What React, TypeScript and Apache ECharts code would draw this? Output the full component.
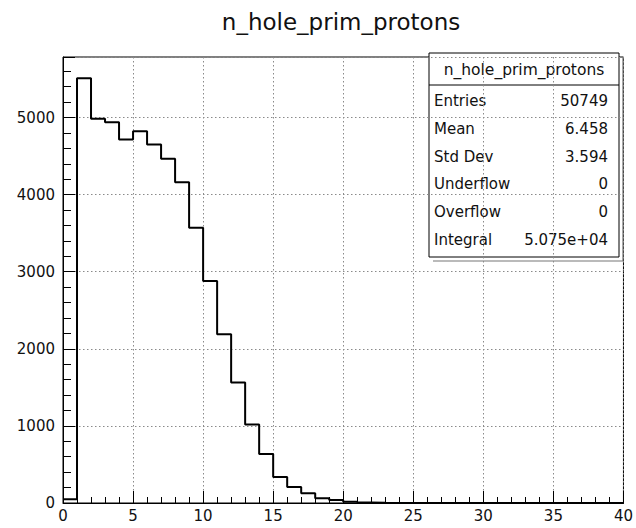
import React, { useEffect, useRef } from "react";
import * as echarts from "echarts";

const CHART_TITLE = "n_hole_prim_protons";
const BIN_EDGES = [
  0, 1, 2, 3, 4, 5, 6, 7, 8, 9, 10, 11, 12, 13, 14, 15, 16, 17, 18, 19, 20,
  21, 22, 23, 24, 25, 26, 27, 28, 29, 30, 31, 32, 33, 34, 35, 36, 37, 38, 39, 40,
];
const BIN_COUNTS = [
  50, 5510, 4985, 4940, 4715, 4823, 4650, 4465, 4162, 3571, 2880, 2189, 1563,
  1019, 635, 337, 207, 125, 60, 40, 15, 5, 2, 0, 0, 0, 0, 0, 0, 0, 0, 0, 0, 0,
  0, 0, 0, 0, 0, 0,
];
const X_MIN = 0;
const X_MAX = 40;
const X_STEP = 5;
const Y_MIN = 0;
const Y_MAX = 5785;
const Y_STEP = 1000;
const STAT_TITLE = "n_hole_prim_protons";
const STAT_NAMES = ["Entries", "Mean", "Std Dev", "Underflow", "Overflow", "Integral"];
const STAT_VALUES = ["50749", "6.458", "3.594", "0", "0", "5.075e+04"];

const FONT = '"DejaVu Sans", "Liberation Sans", sans-serif';

export default function App() {
  const ref = useRef<HTMLDivElement>(null);

  useEffect(() => {
    if (!ref.current) return;
    const chart = echarts.init(ref.current, null, { renderer: "svg" });

    const points: number[][] = BIN_COUNTS.map((c, i) => [BIN_EDGES[i], c]);
    points.push([BIN_EDGES[BIN_EDGES.length - 1], BIN_COUNTS[BIN_COUNTS.length - 1]]);

    const boxL = 429;
    const boxT = 53;
    const boxW = 190;
    const boxH = 204;
    const rowY0 = 101;
    const rowStep = 27.8;

    const statTexts: any[] = [];
    STAT_NAMES.forEach((name, i) => {
      statTexts.push({
        type: "text",
        x: 434,
        y: rowY0 + i * rowStep,
        style: {
          text: name,
          font: `15px ${FONT}`,
          fill: "#111",
          align: "left",
          verticalAlign: "middle",
        },
      });
      statTexts.push({
        type: "text",
        x: 608,
        y: rowY0 + i * rowStep,
        style: {
          text: STAT_VALUES[i],
          font: `15px ${FONT}`,
          fill: "#111",
          align: "right",
          verticalAlign: "middle",
        },
      });
    });

    const dotted = { color: "#8a8a8a", width: 1, type: [1.5, 2.5] as any };

    chart.setOption({
      animation: false,
      backgroundColor: "#fff",
      grid: {
        left: 63,
        right: 11,
        top: 57,
        bottom: 25,
        show: true,
        borderColor: "#000",
        borderWidth: 1,
        backgroundColor: "transparent",
      },
      xAxis: {
        type: "value",
        min: X_MIN,
        max: X_MAX,
        interval: X_STEP,
        axisLine: { show: true, onZero: false, lineStyle: { color: "#000", width: 1 } },
        axisTick: { show: true, inside: true, length: 12, lineStyle: { color: "#000", width: 1 } },
        minorTick: { show: true, splitNumber: 5, length: 6, lineStyle: { color: "#000", width: 1 } },
        splitLine: { show: true, lineStyle: dotted },
        axisLabel: { fontFamily: FONT, fontSize: 15, color: "#111", margin: 5 },
      },
      yAxis: {
        type: "value",
        min: Y_MIN,
        max: Y_MAX,
        interval: Y_STEP,
        axisLine: { show: true, onZero: false, lineStyle: { color: "#000", width: 1 } },
        axisTick: { show: true, inside: true, length: 12, lineStyle: { color: "#000", width: 1 } },
        minorTick: { show: true, splitNumber: 5, length: 8, lineStyle: { color: "#000", width: 1 } },
        splitLine: { show: true, lineStyle: dotted },
        axisLabel: {
          fontFamily: FONT,
          fontSize: 15,
          color: "#111",
          margin: 8,
          formatter: (v: number) => (v % Y_STEP === 0 ? String(v) : ""),
        },
      },
      series: [
        {
          type: "line",
          step: "end",
          data: points,
          showSymbol: false,
          symbol: "none",
          clip: true,
          lineStyle: { color: "#000", width: 2 },
          z: 5,
        },
      ],
      graphic: [
        {
          type: "text",
          x: 341,
          y: 22,
          z: 100,
          style: {
            text: CHART_TITLE,
            font: `23px ${FONT}`,
            fill: "#111",
            align: "center",
            verticalAlign: "middle",
          },
        },
        {
          type: "group",
          z: 100,
          children: [
            {
              type: "polyline",
              shape: {
                points: [
                  [boxL + boxW + 4, boxT + 4],
                  [boxL + boxW + 4, boxT + boxH + 4],
                  [boxL + 4, boxT + boxH + 4],
                ],
              },
              style: { stroke: "#777", lineWidth: 1.2, fill: "none" },
            },
            {
              type: "rect",
              shape: { x: boxL, y: boxT, width: boxW, height: boxH },
              style: { fill: "#fff", stroke: "#000", lineWidth: 1 },
            },
            {
              type: "line",
              shape: { x1: boxL, y1: 85, x2: boxL + boxW, y2: 85 },
              style: { stroke: "#000", lineWidth: 1 },
            },
            {
              type: "text",
              x: boxL + boxW / 2,
              y: 70,
              style: {
                text: STAT_TITLE,
                font: `15.5px ${FONT}`,
                fill: "#111",
                align: "center",
                verticalAlign: "middle",
              },
            },
            ...statTexts,
          ],
        },
      ],
    });

    return () => {
      chart.dispose();
    };
  }, []);

  return (
    <div
      ref={ref}
      style={{ position: "absolute", left: 0, top: 0, width: 636, height: 528, background: "#fff" }}
    />
  );
}
